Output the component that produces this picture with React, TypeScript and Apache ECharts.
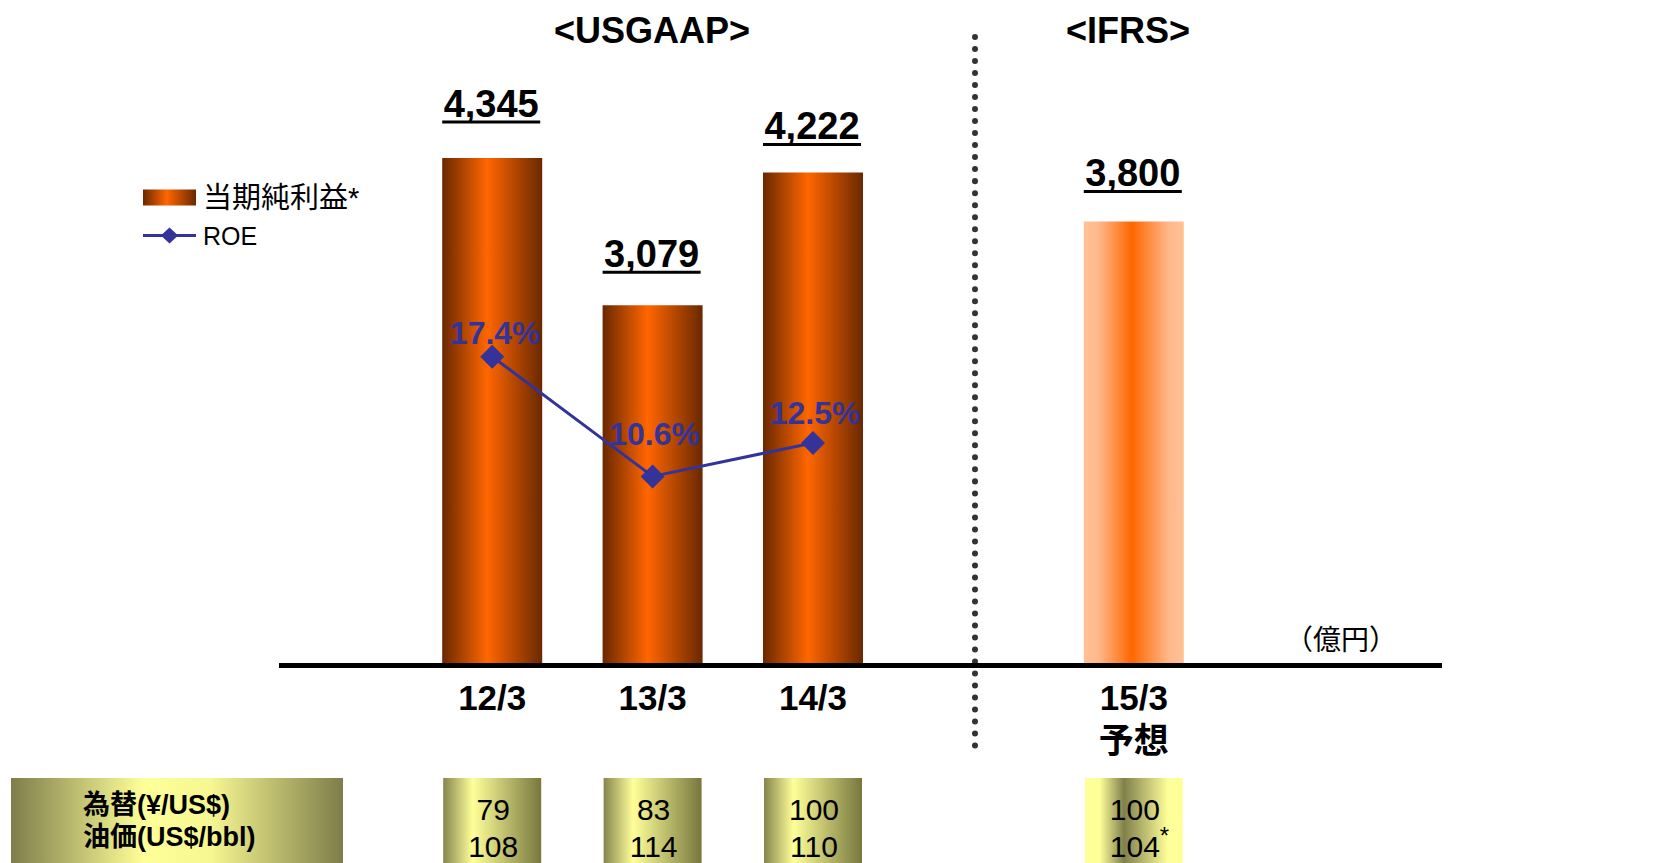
import React, { useEffect, useRef } from 'react';
import * as echarts from 'echarts';

// ---- data ----
const categories = ['12/3', '13/3', '14/3', '', '15/3\n予想'];
const netIncome = [4345, 3079, 4222, null, 3800];
const netIncomeLabels = ['4,345', '3,079', '4,222', '', '3,800'];
const roe = [17.4, 10.6, 12.5, null, null];
const fxRates = ['79', '83', '100', '', '100'];
const oilPrices = ['108', '114', '110', '', '104'];
const oilNotes = ['', '', '', '', '*'];
const forecastIndex = 4;
const legendNames = ['当期純利益*', 'ROE'];
const periodTitles = ['<USGAAP>', '<IFRS>'];
const unitLabel = '（億円）';
const tableHeaders = ['為替(¥/US$)', '油価(US$/bbl)'];

// ---- styles (kept apart from data) ----
const FONT = "'Liberation Sans', Arial, 'Noto Sans CJK JP', sans-serif";
const CJK = "'Noto Sans CJK JP', sans-serif";
const roeLabelOffsets = [[3, -24], [2, -42], [2, -30], [0, 0], [0, 0]];
const valueLabelLift = [54, 51, 46, 0, 48];
const roeLegendIcon =
  'path://M0 6.5 L19.5 6.5 L26.5 0 L33.5 6.5 L53 6.5 L53 9.5 L33.5 9.5 L26.5 16 L19.5 9.5 L0 9.5 Z';

const lin = (stops: [number, string][]) => ({
  type: 'linear', x: 0, y: 0, x2: 1, y2: 0,
  colorStops: stops.map(([offset, color]) => ({ offset, color })),
});

const barGrad = lin([[0, '#6A2800'], [0.45, '#FF6600'], [1, '#6A2800']]);
const forecastGrad = lin([[0, '#FFC196'], [0.15, '#FFB88A'], [0.48, '#FF6600'], [0.85, '#FFB88A'], [1, '#FFC196']]);
const cellGrad = lin([[0, '#85854E'], [0.3, '#FFFF99'], [1, '#77773F']]);
const forecastCellGrad = lin([[0, '#FFFF99'], [0.15, '#FFFF99'], [0.4, '#80804C'], [0.85, '#FFFF99'], [1, '#FFFF99']]);
const headerGrad = lin([[0, '#7E7D4A'], [0.4, '#FFFF99'], [0.6, '#F7F792'], [1, '#7E7D4A']]);

export default function App() {
  const ref = useRef<HTMLDivElement>(null);
  useEffect(() => {
    if (!ref.current) return;
    const chart = echarts.init(ref.current, null, { renderer: 'svg' });

    const barData = netIncome.map((v, i) =>
      v == null ? '-' : i === forecastIndex ? { value: v, itemStyle: { color: forecastGrad } } : v
    );
    const roeData = roe.map((v, i) =>
      v == null ? '-' : { value: v, label: { offset: roeLabelOffsets[i] } }
    );
    const valueLabelData = netIncome
      .map((v, i) => (v == null ? null : [i, v]))
      .filter((d) => d != null);
    const tableData = fxRates
      .map((v, i) => (v === '' ? null : [i, 0]))
      .filter((d) => d != null);

    const option: any = {
      animation: false,
      backgroundColor: '#ffffff',
      textStyle: { fontFamily: FONT },
      grid: { left: 412, right: 458, top: 82, bottom: 200 },
      legend: {
        orient: 'vertical',
        left: 138,
        top: 178,
        itemWidth: 53,
        itemHeight: 16,
        itemGap: 11,
        selectedMode: false,
        data: [
          { name: legendNames[0], icon: 'rect' },
          { name: legendNames[1], icon: roeLegendIcon },
        ],
        formatter: (name: string) => (name === legendNames[0] ? `{c|${name}}` : `{r|${name}}`),
        textStyle: {
          color: '#000',
          fontFamily: FONT,
          padding: [0, 0, 0, 2],
          rich: {
            c: { fontSize: 29, fontFamily: FONT, color: '#000' },
            r: { fontSize: 25, fontFamily: FONT, color: '#000' },
          },
        },
      },
      xAxis: {
        type: 'category',
        data: categories,
        axisLine: { show: false },
        axisTick: { show: false },
        axisLabel: {
          margin: 13,
          fontSize: 35,
          lineHeight: 43,
          fontWeight: 'bold',
          color: '#000',
          fontFamily: FONT,
          interval: 0,
        },
      },
      yAxis: [
        { type: 'value', min: 0, max: 5000, show: false },
        { type: 'value', min: 0, max: 33, show: false },
      ],
      series: [
        {
          name: legendNames[0],
          type: 'bar',
          data: barData,
          barWidth: 100,
          itemStyle: { color: barGrad },
          z: 2,
        },
        {
          name: legendNames[1],
          type: 'line',
          yAxisIndex: 1,
          data: roeData,
          symbol: 'diamond',
          symbolSize: 24,
          lineStyle: { color: '#333399', width: 3 },
          itemStyle: { color: '#333399' },
          label: {
            show: true,
            position: 'inside',
            formatter: (p: any) => `${p.value}%`,
            fontSize: 32,
            fontWeight: 'bold',
            color: '#333399',
            fontFamily: FONT,
          },
          z: 4,
        },
        {
          name: 'valueLabels',
          type: 'custom',
          data: valueLabelData,
          encode: { x: 0, y: 1 },
          z: 5,
          renderItem: (params: any, api: any) => {
            const idx = api.value(0);
            const v = api.value(1);
            const p = api.coord([idx, v]);
            const lift = valueLabelLift[idx];
            return {
              type: 'group',
              children: [
                {
                  type: 'text',
                  x: p[0] - 1,
                  y: p[1] - lift,
                  style: {
                    text: netIncomeLabels[idx],
                    fontSize: 38,
                    fontWeight: 'bold',
                    fontFamily: FONT,
                    fill: '#000',
                    align: 'center',
                    verticalAlign: 'middle',
                  },
                },
                {
                  type: 'line',
                  shape: { x1: p[0] - 50, y1: p[1] - lift + 18, x2: p[0] + 48, y2: p[1] - lift + 18 },
                  style: { stroke: '#000', lineWidth: 3 },
                },
              ],
            };
          },
        },
        {
          name: 'table',
          type: 'custom',
          data: tableData,
          encode: { x: 0, y: 1 },
          clip: false,
          z: 5,
          renderItem: (params: any, api: any) => {
            const idx = api.value(0);
            const p = api.coord([idx, 0]);
            const x = p[0];
            const children: any[] = [
              {
                type: 'rect',
                shape: { x: x - 49, y: 778, width: 98, height: 95 },
                style: { fill: idx === forecastIndex ? forecastCellGrad : cellGrad },
              },
              {
                type: 'text',
                x: x + 1,
                y: 809,
                style: {
                  text: fxRates[idx], fontSize: 30, fontFamily: FONT, fill: '#000',
                  align: 'center', verticalAlign: 'middle',
                },
              },
              {
                type: 'text',
                x: x + 1,
                y: 846,
                style: {
                  text: oilPrices[idx], fontSize: 30, fontFamily: FONT, fill: '#000',
                  align: 'center', verticalAlign: 'middle',
                },
              },
            ];
            if (oilNotes[idx]) {
              children.push({
                type: 'text',
                x: x + 26,
                y: 835,
                style: {
                  text: oilNotes[idx], fontSize: 24, fontFamily: FONT, fill: '#000',
                  align: 'left', verticalAlign: 'middle',
                },
              });
            }
            return { type: 'group', children };
          },
        },
      ],
      graphic: [
        {
          type: 'text',
          x: 652,
          y: 30,
          style: {
            text: periodTitles[0], fontSize: 36, fontWeight: 'bold', fontFamily: FONT, fill: '#000',
            align: 'center', verticalAlign: 'middle',
          },
        },
        {
          type: 'text',
          x: 1128,
          y: 30,
          style: {
            text: periodTitles[1], fontSize: 36, fontWeight: 'bold', fontFamily: FONT, fill: '#000',
            align: 'center', verticalAlign: 'middle',
          },
        },
        {
          type: 'line',
          shape: { x1: 975, y1: 37, x2: 975, y2: 748 },
          style: { stroke: '#333333', lineWidth: 6, lineCap: 'round', lineDash: [0.01, 12] },
          z: 1,
        },
        {
          type: 'line',
          shape: { x1: 279, y1: 665.5, x2: 1442, y2: 665.5 },
          style: { stroke: '#000', lineWidth: 5 },
          z: 10,
        },
        {
          type: 'text',
          x: 1341,
          y: 638,
          style: {
            text: unitLabel, fontSize: 28, fontFamily: CJK, fill: '#000',
            align: 'center', verticalAlign: 'middle',
          },
        },
        {
          type: 'rect',
          shape: { x: 11, y: 778, width: 332, height: 95 },
          style: { fill: headerGrad },
        },
        {
          type: 'text',
          x: 83,
          y: 805,
          style: {
            text: tableHeaders[0], fontSize: 27, fontWeight: 'bold', fontFamily: FONT, fill: '#000',
            align: 'left', verticalAlign: 'middle',
          },
        },
        {
          type: 'text',
          x: 83,
          y: 837,
          style: {
            text: tableHeaders[1], fontSize: 27, fontWeight: 'bold', fontFamily: FONT, fill: '#000',
            align: 'left', verticalAlign: 'middle',
          },
        },
      ],
    };
    chart.setOption(option);
    return () => chart.dispose();
  }, []);

  return (
    <div
      ref={ref}
      style={{ position: 'fixed', left: 0, top: 0, width: 1672, height: 863, background: '#fff' }}
    />
  );
}
